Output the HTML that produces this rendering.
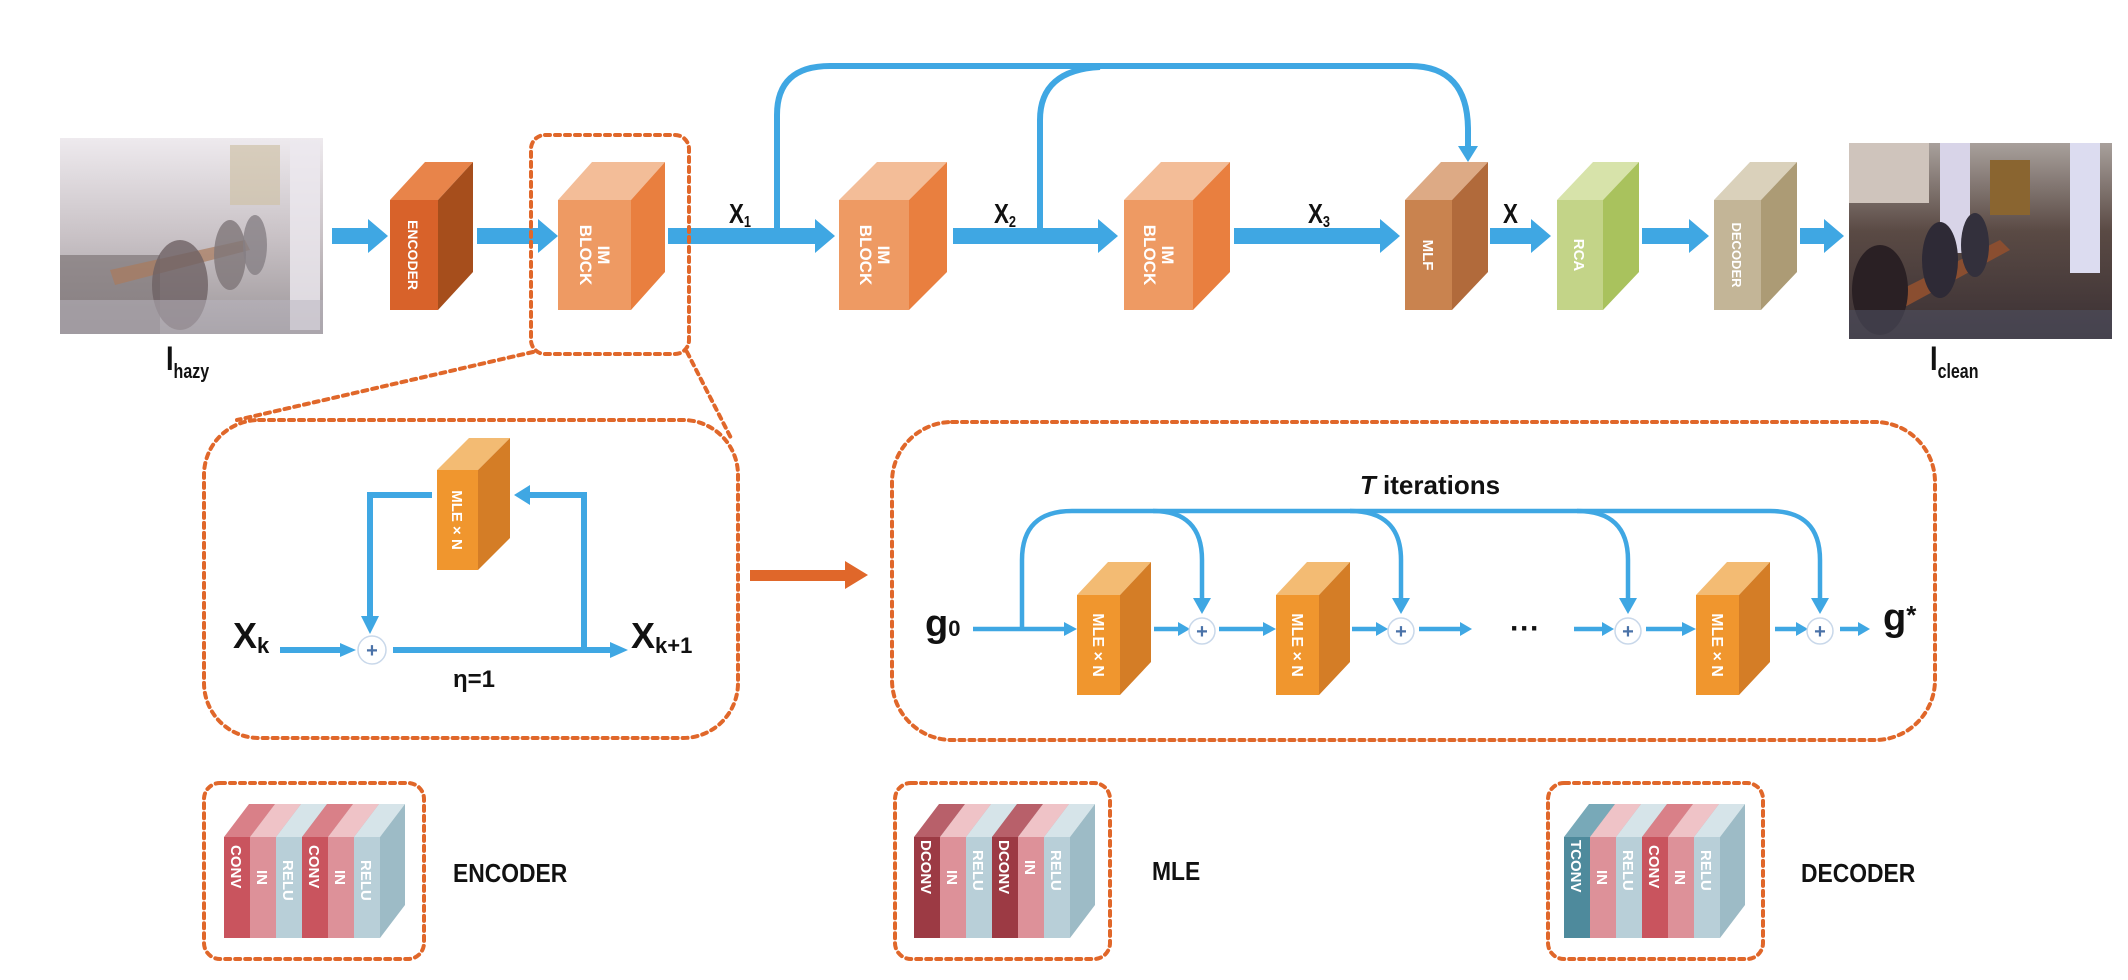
<!DOCTYPE html>
<html><head><meta charset="utf-8"><style>
html,body{margin:0;padding:0;background:#fff;}
svg{display:block;}
text{font-family:"Liberation Sans",Arial,sans-serif;}
.w{fill:#fff;font-weight:bold;}
.lb{font-weight:bold;fill:#111;}
</style></head><body>
<svg width="2128" height="980" viewBox="0 0 2128 980" xmlns="http://www.w3.org/2000/svg">
<defs>
<linearGradient id="hz" x1="0" y1="0" x2="0" y2="1"><stop offset="0" stop-color="#eeeaee"/><stop offset="0.5" stop-color="#c9c2c6"/><stop offset="1" stop-color="#9c9699"/></linearGradient>
<linearGradient id="cl" x1="0" y1="0" x2="0" y2="1"><stop offset="0" stop-color="#a8a09c"/><stop offset="0.45" stop-color="#5a4a44"/><stop offset="1" stop-color="#3a3034"/></linearGradient>
</defs>

<rect x="60" y="138" width="263" height="196" fill="url(#hz)"/>
<rect x="230" y="145" width="50" height="60" fill="#cfc2a8" opacity="0.7"/>
<rect x="290" y="140" width="30" height="190" fill="#ece9ef" opacity="0.8"/>
<rect x="60" y="255" width="100" height="79" fill="#7f7678" opacity="0.7"/>
<path d="M110 270 L245 240 L250 250 L115 285Z" fill="#a97a5c" opacity="0.7"/>
<ellipse cx="180" cy="285" rx="28" ry="45" fill="#6e6264" opacity="0.8"/>
<ellipse cx="230" cy="255" rx="16" ry="35" fill="#7e7578" opacity="0.8"/>
<ellipse cx="255" cy="245" rx="12" ry="30" fill="#868084" opacity="0.8"/>
<rect x="60" y="300" width="263" height="34" fill="#b9b6c0" opacity="0.5"/>
<rect x="1849" y="143" width="263" height="196" fill="url(#cl)"/>
<rect x="1940" y="143" width="30" height="110" fill="#d8d4e8"/>
<rect x="2070" y="143" width="30" height="130" fill="#dcdcf0"/>
<rect x="1990" y="160" width="40" height="55" fill="#8a6530"/>
<rect x="1849" y="143" width="80" height="60" fill="#cfc4bc"/>
<path d="M1880 300 L2000 240 L2010 250 L1890 315Z" fill="#8a4e30"/>
<ellipse cx="1880" cy="290" rx="28" ry="45" fill="#2a2024"/>
<ellipse cx="1940" cy="260" rx="18" ry="38" fill="#2e2a36"/>
<ellipse cx="1975" cy="245" rx="14" ry="32" fill="#33303c"/>
<rect x="1849" y="310" width="263" height="29" fill="#4f5060" opacity="0.6"/>

<text class="lb" x="166" y="370" font-size="34" transform="translate(166 0) scale(0.8 1) translate(-166 0)">I<tspan font-size="20" dy="8">hazy</tspan></text>
<text class="lb" x="1930" y="370" font-size="34" transform="translate(1930 0) scale(0.8 1) translate(-1930 0)">I<tspan font-size="20" dy="8">clean</tspan></text>

<g fill="#3fa7e3">
<polygon points="332,228 368,228 368,219 388,236 368,253 368,244 332,244"/>
<polygon points="477,228 538,228 538,219 558,236 538,253 538,244 477,244"/>
<polygon points="668,228 815,228 815,219 835,236 815,253 815,244 668,244"/>
<polygon points="953,228 1098,228 1098,219 1118,236 1098,253 1098,244 953,244"/>
<polygon points="1234,228 1380,228 1380,219 1400,236 1380,253 1380,244 1234,244"/>
<polygon points="1490,228 1531,228 1531,219 1551,236 1531,253 1531,244 1490,244"/>
<polygon points="1642,228 1689,228 1689,219 1709,236 1689,253 1689,244 1642,244"/>
<polygon points="1800,228 1824,228 1824,219 1844,236 1824,253 1824,244 1800,244"/>
</g>
<g fill="none" stroke="#3fa7e3" stroke-width="6">
<path d="M777,236 V115 Q777,66 830,66 H1410 Q1468,66 1468,130 V150"/>
<path d="M1040,236 V120 Q1040,70 1100,67"/>
</g>
<polygon points="1458,146 1478,146 1468,162" fill="#3fa7e3"/>

<g class="lb" font-size="28">
<text x="729" y="223" transform="translate(729 0) scale(0.8 1) translate(-729 0)">X<tspan font-size="16" dy="4">1</tspan></text>
<text x="994" y="223" transform="translate(994 0) scale(0.8 1) translate(-994 0)">X<tspan font-size="16" dy="4">2</tspan></text>
<text x="1308" y="223" transform="translate(1308 0) scale(0.8 1) translate(-1308 0)">X<tspan font-size="16" dy="4">3</tspan></text>
<text x="1503" y="223" transform="translate(1503 0) scale(0.8 1) translate(-1503 0)">X</text>
</g>

<polygon points="390,200 425,162 473,162 438,200" fill="#e8844a"/>
<polygon points="438,200 473,162 473,272 438,310" fill="#a64e1c"/>
<rect x="390" y="200" width="48" height="110" fill="#d8622a"/>
<text class="w" font-size="14" transform="translate(408 255) rotate(90)" text-anchor="middle">ENCODER</text>
<polygon points="558,200 592,162 665,162 631,200" fill="#f3bd98"/>
<polygon points="631,200 665,162 665,272 631,310" fill="#e97f3f"/>
<rect x="558" y="200" width="73" height="110" fill="#ee9a63"/>
<text class="w" font-size="17" transform="translate(594 255) rotate(90)" text-anchor="middle"><tspan x="0" y="-4">IM</tspan><tspan x="0" y="14">BLOCK</tspan></text>
<polygon points="839,200 877,162 947,162 909,200" fill="#f3bd98"/>
<polygon points="909,200 947,162 947,272 909,310" fill="#e97f3f"/>
<rect x="839" y="200" width="70" height="110" fill="#ee9a63"/>
<text class="w" font-size="17" transform="translate(874 255) rotate(90)" text-anchor="middle"><tspan x="0" y="-4">IM</tspan><tspan x="0" y="14">BLOCK</tspan></text>
<polygon points="1124,200 1161,162 1230,162 1193,200" fill="#f3bd98"/>
<polygon points="1193,200 1230,162 1230,272 1193,310" fill="#e97f3f"/>
<rect x="1124" y="200" width="69" height="110" fill="#ee9a63"/>
<text class="w" font-size="17" transform="translate(1158 255) rotate(90)" text-anchor="middle"><tspan x="0" y="-4">IM</tspan><tspan x="0" y="14">BLOCK</tspan></text>
<polygon points="1405,200 1441,162 1488,162 1452,200" fill="#ddaa85"/>
<polygon points="1452,200 1488,162 1488,272 1452,310" fill="#b16a3b"/>
<rect x="1405" y="200" width="47" height="110" fill="#c9834f"/>
<text class="w" font-size="15" transform="translate(1423 255) rotate(90)" text-anchor="middle">MLF</text>
<polygon points="1557,200 1593,162 1639,162 1603,200" fill="#d7e3aa"/>
<polygon points="1603,200 1639,162 1639,272 1603,310" fill="#a9c25d"/>
<rect x="1557" y="200" width="46" height="110" fill="#c3d488"/>
<text class="w" font-size="15" transform="translate(1574 255) rotate(90)" text-anchor="middle">RCA</text>
<polygon points="1714,200 1750,162 1797,162 1761,200" fill="#dad1bb"/>
<polygon points="1761,200 1797,162 1797,272 1761,310" fill="#ac9b75"/>
<rect x="1714" y="200" width="47" height="110" fill="#c3b597"/>
<text class="w" font-size="13" transform="translate(1732 255) rotate(90)" text-anchor="middle">DECODER</text>

<g fill="none" stroke="#e0672a" stroke-width="4" stroke-dasharray="5 5" stroke-linecap="round">
<rect x="531" y="135" width="158" height="219" rx="14"/>
<path d="M533,352 L237,420"/>
<path d="M687,352 L732,440"/>
<rect x="204" y="420" width="534" height="318" rx="55"/>
<rect x="892" y="422" width="1043" height="318" rx="60"/>
<rect x="204" y="783" width="220" height="176" rx="16"/>
<rect x="895" y="783" width="215" height="176" rx="16"/>
<rect x="1548" y="783" width="215" height="176" rx="16"/>
</g>

<polygon points="750,570 845,570 845,561 868,575 845,589 845,581 750,581" fill="#e0672a"/>

<g fill="none" stroke="#3fa7e3" stroke-width="6">
<path d="M432,495 H370 V618"/>
<path d="M584,650 V495 H528"/>
<path d="M280,650 H343"/>
<path d="M393,650 H612"/>
</g>
<g fill="#3fa7e3">
<polygon points="361,616 379,616 370,634"/>
<polygon points="530,485 530,505 514,495"/>
<polygon points="340,643 340,657 356,650"/>
<polygon points="610,642 610,658 628,650"/>
</g>
<circle cx="372" cy="650" r="14" fill="#fff" stroke="#c9d8ea" stroke-width="1.5"/>
<text x="372" y="657" font-size="20" fill="#4a72a8" text-anchor="middle" font-weight="bold">+</text>
<polygon points="437,470 469,438 510,438 478,470" fill="#f3bb73"/>
<polygon points="478,470 510,438 510,538 478,570" fill="#d47d26"/>
<rect x="437" y="470" width="41" height="100" fill="#f0962e"/>
<text class="w" font-size="15" transform="translate(452 520) rotate(90)" text-anchor="middle">MLE  × N</text>
<text class="lb" font-size="36" x="233" y="648">X<tspan font-size="22" dy="5">k</tspan></text>
<text class="lb" font-size="36" x="631" y="648">X<tspan font-size="22" dy="5">k+1</tspan></text>
<text class="lb" font-size="24" x="453" y="687">η=1</text>

<text class="lb" font-size="26" x="1430" y="494" text-anchor="middle"><tspan font-style="italic">T</tspan>  iterations</text>
<g fill="none" stroke="#3fa7e3" stroke-width="4.5">
<path d="M1022,629 V560 Q1022,511 1072,511 H1770 Q1820,511 1820,560 V600"/>
<path d="M1153,511 Q1202,511 1202,560 V600"/>
<path d="M1350,511 Q1401,511 1401,560 V600"/>
<path d="M1577,511 Q1628,511 1628,560 V600"/>
<path d="M973,629 H1066"/>
<path d="M1154,629 H1180"/>
<path d="M1219,629 H1265"/>
<path d="M1352,629 H1378"/>
<path d="M1419,629 H1462"/>
<path d="M1574,629 H1604"/>
<path d="M1646,629 H1684"/>
<path d="M1775,629 H1798"/>
<path d="M1840,629 H1860"/>
</g>
<g fill="#3fa7e3">
<polygon points="1193,598 1211,598 1202,614"/>
<polygon points="1392,598 1410,598 1401,614"/>
<polygon points="1619,598 1637,598 1628,614"/>
<polygon points="1811,598 1829,598 1820,614"/>
<polygon points="1064,622 1064,636 1077,629"/>
<polygon points="1178,622 1178,636 1190,629"/>
<polygon points="1263,622 1263,636 1276,629"/>
<polygon points="1376,622 1376,636 1388,629"/>
<polygon points="1460,622 1460,636 1472,629"/>
<polygon points="1602,622 1602,636 1614,629"/>
<polygon points="1682,622 1682,636 1696,629"/>
<polygon points="1796,622 1796,636 1808,629"/>
<polygon points="1858,622 1858,636 1870,629"/>
</g>
<g fill="#fff" stroke="#c9d8ea" stroke-width="1.5">
<circle cx="1202" cy="631" r="13"/><circle cx="1401" cy="631" r="13"/><circle cx="1628" cy="631" r="13"/><circle cx="1820" cy="631" r="13"/>
</g>
<g font-size="20" fill="#4a72a8" text-anchor="middle" font-weight="bold">
<text x="1202" y="638">+</text><text x="1401" y="638">+</text><text x="1628" y="638">+</text><text x="1820" y="638">+</text>
</g>
<text class="lb" font-size="30" x="1525" y="638" text-anchor="middle">···</text>
<text class="lb" font-size="38" x="925" y="636">g<tspan font-size="22" dy="0">0</tspan></text>
<text class="lb" font-size="38" x="1883" y="630">g<tspan font-size="26" dy="-6">*</tspan></text>
<g>
<polygon points="1077,595 1108,562 1151,562 1120,595" fill="#f3bb73"/>
<polygon points="1120,595 1151,562 1151,662 1120,695" fill="#d47d26"/>
<rect x="1077" y="595" width="43" height="100" fill="#f0962e"/>
<text class="w" font-size="16" transform="translate(1093 645) rotate(90)" text-anchor="middle">MLE  × N</text>
<polygon points="1276,595 1307,562 1350,562 1319,595" fill="#f3bb73"/>
<polygon points="1319,595 1350,562 1350,662 1319,695" fill="#d47d26"/>
<rect x="1276" y="595" width="43" height="100" fill="#f0962e"/>
<text class="w" font-size="16" transform="translate(1292 645) rotate(90)" text-anchor="middle">MLE  × N</text>
<polygon points="1696,595 1727,562 1770,562 1739,595" fill="#f3bb73"/>
<polygon points="1739,595 1770,562 1770,662 1739,695" fill="#d47d26"/>
<rect x="1696" y="595" width="43" height="100" fill="#f0962e"/>
<text class="w" font-size="16" transform="translate(1712 645) rotate(90)" text-anchor="middle">MLE  × N</text>
</g>

<g>
<polygon points="224,837 249,804 275,804 250,837" fill="#d98088"/><polygon points="250,837 275,804 275,905 250,938" fill="#a8363f"/><rect x="224" y="837" width="26" height="101" fill="#c9545e"/>
<polygon points="250,837 275,804 301,804 276,837" fill="#efc3c7"/><polygon points="276,837 301,804 301,905 276,938" fill="#c86a74"/><rect x="250" y="837" width="26" height="101" fill="#dd9199"/>
<polygon points="276,837 301,804 327,804 302,837" fill="#d6e4e9"/><polygon points="302,837 327,804 327,905 302,938" fill="#9dbbc6"/><rect x="276" y="837" width="26" height="101" fill="#b8cfd8"/>
<polygon points="302,837 327,804 353,804 328,837" fill="#d98088"/><polygon points="328,837 353,804 353,905 328,938" fill="#a8363f"/><rect x="302" y="837" width="26" height="101" fill="#c9545e"/>
<polygon points="328,837 353,804 379,804 354,837" fill="#efc3c7"/><polygon points="354,837 379,804 379,905 354,938" fill="#c86a74"/><rect x="328" y="837" width="26" height="101" fill="#dd9199"/>
<polygon points="354,837 379,804 405,804 380,837" fill="#d6e4e9"/><polygon points="380,837 405,804 405,905 380,938" fill="#9dbbc6"/><rect x="354" y="837" width="26" height="101" fill="#b8cfd8"/>
<g class="w" font-size="15">
<text transform="translate(231 845) rotate(90)">CONV</text><text transform="translate(257 870) rotate(90)">IN</text><text transform="translate(283 860) rotate(90)">RELU</text>
<text transform="translate(309 845) rotate(90)">CONV</text><text transform="translate(335 870) rotate(90)">IN</text><text transform="translate(361 860) rotate(90)">RELU</text>
</g>
</g>
<text class="lb" font-size="26" x="453" y="882" transform="translate(453 0) scale(0.88 1) translate(-453 0)">ENCODER</text>
<g>
<polygon points="914,837 939,804 965,804 940,837" fill="#b8606a"/><polygon points="940,837 965,804 965,905 940,938" fill="#7a2a32"/><rect x="914" y="837" width="26" height="101" fill="#9c3a44"/>
<polygon points="940,837 965,804 991,804 966,837" fill="#efc3c7"/><polygon points="966,837 991,804 991,905 966,938" fill="#c86a74"/><rect x="940" y="837" width="26" height="101" fill="#dd9199"/>
<polygon points="966,837 991,804 1017,804 992,837" fill="#d6e4e9"/><polygon points="992,837 1017,804 1017,905 992,938" fill="#9dbbc6"/><rect x="966" y="837" width="26" height="101" fill="#b8cfd8"/>
<polygon points="992,837 1017,804 1043,804 1018,837" fill="#b8606a"/><polygon points="1018,837 1043,804 1043,905 1018,938" fill="#7a2a32"/><rect x="992" y="837" width="26" height="101" fill="#9c3a44"/>
<polygon points="1018,837 1043,804 1069,804 1044,837" fill="#efc3c7"/><polygon points="1044,837 1069,804 1069,905 1044,938" fill="#c86a74"/><rect x="1018" y="837" width="26" height="101" fill="#dd9199"/>
<polygon points="1044,837 1069,804 1095,804 1070,837" fill="#d6e4e9"/><polygon points="1070,837 1095,804 1095,905 1070,938" fill="#9dbbc6"/><rect x="1044" y="837" width="26" height="101" fill="#b8cfd8"/>
<g class="w" font-size="15">
<text transform="translate(921 840) rotate(90)">DCONV</text><text transform="translate(947 870) rotate(90)">IN</text><text transform="translate(973 850) rotate(90)">RELU</text>
<text transform="translate(999 840) rotate(90)">DCONV</text><text transform="translate(1025 860) rotate(90)">IN</text><text transform="translate(1051 850) rotate(90)">RELU</text>
</g>
</g>
<text class="lb" font-size="26" x="1152" y="880" transform="translate(1152 0) scale(0.88 1) translate(-1152 0)">MLE</text>
<g>
<polygon points="1564,837 1589,804 1615,804 1590,837" fill="#78a9b8"/><polygon points="1590,837 1615,804 1615,905 1590,938" fill="#346c7c"/><rect x="1564" y="837" width="26" height="101" fill="#4e8a9c"/>
<polygon points="1590,837 1615,804 1641,804 1616,837" fill="#efc3c7"/><polygon points="1616,837 1641,804 1641,905 1616,938" fill="#c86a74"/><rect x="1590" y="837" width="26" height="101" fill="#dd9199"/>
<polygon points="1616,837 1641,804 1667,804 1642,837" fill="#d6e4e9"/><polygon points="1642,837 1667,804 1667,905 1642,938" fill="#9dbbc6"/><rect x="1616" y="837" width="26" height="101" fill="#b8cfd8"/>
<polygon points="1642,837 1667,804 1693,804 1668,837" fill="#d98088"/><polygon points="1668,837 1693,804 1693,905 1668,938" fill="#a8363f"/><rect x="1642" y="837" width="26" height="101" fill="#c9545e"/>
<polygon points="1668,837 1693,804 1719,804 1694,837" fill="#efc3c7"/><polygon points="1694,837 1719,804 1719,905 1694,938" fill="#c86a74"/><rect x="1668" y="837" width="26" height="101" fill="#dd9199"/>
<polygon points="1694,837 1719,804 1745,804 1720,837" fill="#d6e4e9"/><polygon points="1720,837 1745,804 1745,905 1720,938" fill="#9dbbc6"/><rect x="1694" y="837" width="26" height="101" fill="#b8cfd8"/>
<g class="w" font-size="15">
<text transform="translate(1571 840) rotate(90)">TCONV</text><text transform="translate(1597 870) rotate(90)">IN</text><text transform="translate(1623 850) rotate(90)">RELU</text>
<text transform="translate(1649 845) rotate(90)">CONV</text><text transform="translate(1675 870) rotate(90)">IN</text><text transform="translate(1701 850) rotate(90)">RELU</text>
</g>
</g>
<text class="lb" font-size="26" x="1801" y="882" transform="translate(1801 0) scale(0.88 1) translate(-1801 0)">DECODER</text>
</svg>
</body></html>
